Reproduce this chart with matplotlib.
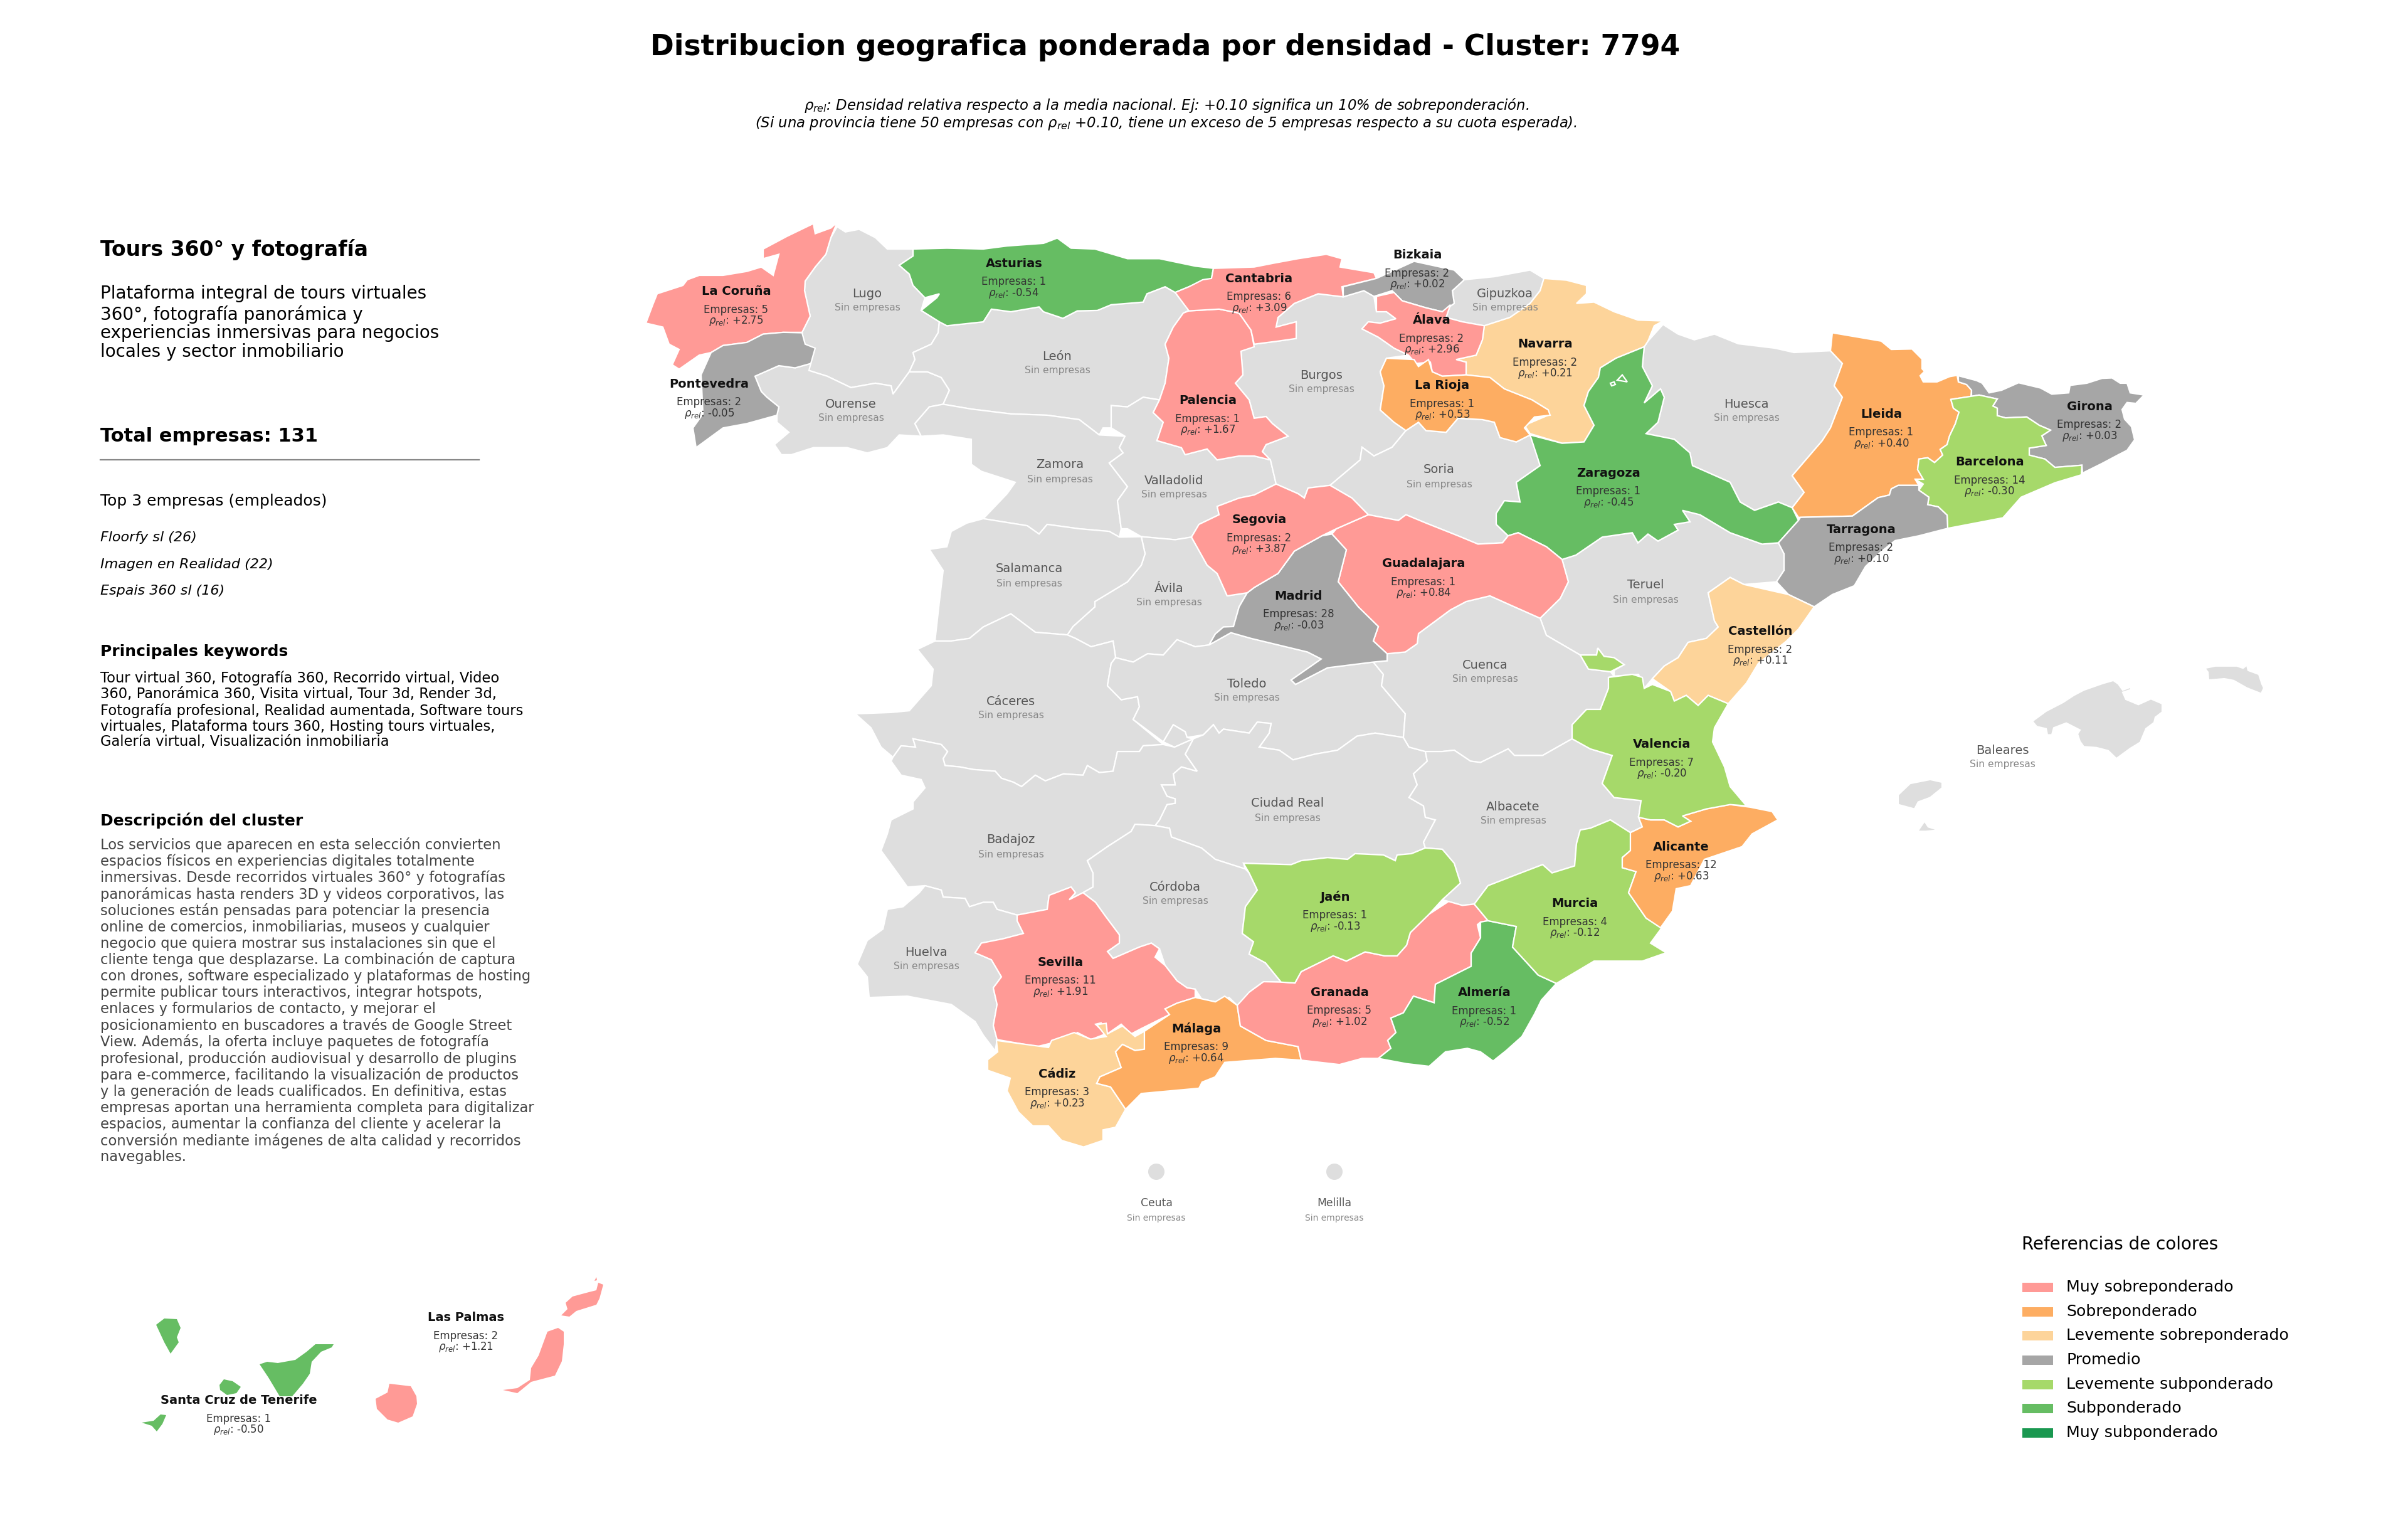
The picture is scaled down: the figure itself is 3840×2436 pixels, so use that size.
import matplotlib
matplotlib.use('Agg')
import matplotlib.pyplot as plt
from matplotlib.patches import Polygon, Circle, Rectangle

# outlines, x in pixels, y stretched (see MAP_YLIM)
OUTLINES = {
    'La Coruña': [[(1335,365),(1325,400),(1317,438),(1300,467),(1284,499),(1283,521),(1292,579),(1279,616),(1249,616),(1217,620),(1191,639),(1153,646),(1134,662),(1115,668),(1083,700),(1072,690),(1083,655),(1067,643),(1057,604),(1030,595),(1041,553),(1048,528),(1089,509),(1096,496),(1115,486),(1153,486),(1191,477),(1214,467),(1233,486),(1242,438),(1217,448),(1217,426),(1255,397),(1297,368),(1300,391),(1325,378)]],
    'Lugo': [[(1335,375),(1348,387),(1370,381),(1396,400),(1415,426),(1456,426),(1456,442),(1434,463),(1450,483),(1456,509),(1475,537),(1469,566),(1498,592),(1496,617),(1485,643),(1456,662),(1459,678),(1450,706),(1424,757),(1421,738),(1396,732),(1357,742),(1319,716),(1290,703),(1279,616),(1292,579),(1283,521),(1284,499),(1300,467),(1317,438),(1325,400)]],
    'Asturias': [[(1456,426),(1510,424),(1568,426),(1606,419),(1664,413),(1686,401),(1708,424),(1746,426),(1798,448),(1849,448),(1906,465),(1935,470),(1932,493),(1896,512),(1874,525),(1858,512),(1829,528),(1823,547),(1772,553),(1750,566),(1718,567),(1695,584),(1664,569),(1657,558),(1612,569),(1581,563),(1568,592),(1510,601),(1498,592),(1469,566),(1494,537),(1498,528),(1475,537),(1456,509),(1450,483),(1434,463),(1456,442)]],
    'Pontevedra': [[(1279,617),(1284,643),(1300,652),(1293,687),(1268,697),(1242,692),(1204,716),(1214,751),(1223,764),(1242,786),(1239,805),(1191,824),(1153,834),(1110,879),(1105,834),(1121,802),(1118,713),(1134,662),(1153,646),(1191,639),(1217,620),(1249,616)]],
    'Ourense': [[(1204,716),(1242,692),(1268,697),(1293,687),(1290,703),(1319,716),(1357,742),(1396,732),(1421,738),(1424,757),(1450,706),(1479,706),(1501,719),(1514,748),(1504,780),(1482,786),(1459,824),(1469,853),(1434,850),(1415,879),(1383,891),(1351,879),(1297,879),(1262,895),(1246,895),(1235,872),(1258,844),(1239,821),(1239,805),(1242,786),(1223,764),(1214,751)]],
    'León': [[(1496,617),(1485,643),(1456,662),(1459,678),(1450,706),(1479,706),(1501,719),(1514,748),(1504,780),(1549,791),(1612,802),(1670,805),(1721,815),(1753,850),(1759,834),(1772,834),(1772,783),(1798,786),(1823,764),(1849,770),(1858,732),(1864,675),(1858,643),(1871,604),(1887,572),(1896,566),(1874,525),(1858,512),(1829,528),(1823,547),(1772,553),(1750,566),(1718,567),(1695,584),(1664,569),(1657,558),(1612,569),(1581,563),(1568,592),(1510,601),(1498,592)]],
    'Zamora': [[(1504,780),(1549,791),(1612,802),(1670,805),(1721,815),(1753,850),(1794,853),(1785,879),(1791,891),(1769,914),(1798,968),(1782,1000),(1788,1064),(1785,1083),(1769,1070),(1721,1064),(1670,1054),(1657,1076),(1638,1057),(1568,1041),(1574,1032),(1606,984),(1619,958),(1565,933),(1549,917),(1549,860),(1504,850),(1469,853),(1459,824),(1482,786)]],
    'Valladolid': [[(1772,783),(1798,786),(1823,764),(1849,770),(1839,799),(1855,821),(1845,863),(1884,879),(1890,895),(1925,882),(1941,907),(1976,898),(2000,898),(2026,907),(2035,962),(2000,987),(1976,994),(1941,1013),(1944,1032),(1912,1054),(1900,1083),(1874,1089),(1820,1082),(1798,1064),(1788,1064),(1782,1000),(1798,968),(1769,914),(1791,891),(1785,879),(1794,853),(1772,834)]],
    'Palencia': [[(1887,572),(1896,567),(1944,563),(1976,572),(1995,611),(2000,649),(1979,659),(1982,713),(1970,732),(1992,770),(2000,812),(2019,808),(2029,824),(2054,853),(2019,872),(2013,888),(2026,907),(2000,898),(1976,898),(1941,907),(1925,882),(1890,895),(1884,879),(1845,863),(1855,821),(1839,799),(1849,770),(1858,732),(1864,675),(1858,643),(1871,604)]],
    'Cantabria': [[(1935,470),(2000,467),(2032,458),(2070,448),(2115,438),(2140,448),(2137,467),(2191,480),(2195,493),(2140,512),(2142,535),(2102,528),(2064,550),(2038,582),(2035,604),(2067,592),(2067,630),(2038,636),(2000,643),(1995,611),(1976,572),(1944,563),(1896,567),(1874,525),(1896,512),(1918,496),(1932,493)]],
    'Bizkaia': [[(2142,512),(2195,493),(2255,454),(2319,474),(2335,496),(2316,521),(2319,550),(2300,569),(2274,560),(2236,544),(2220,521),(2191,534),(2175,521),(2142,535)]],
    'Gipuzkoa': [[(2335,496),(2383,489),(2440,474),(2462,493),(2456,521),(2440,550),(2408,582),(2367,601),(2332,592),(2306,582),(2313,553),(2300,569),(2319,550),(2316,521)]],
    'Navarra': [[(2462,493),(2498,497),(2530,509),(2530,528),(2514,550),(2542,547),(2574,569),(2612,588),(2652,590),(2638,601),(2628,636),(2622,649),(2577,675),(2552,697),(2549,719),(2533,751),(2526,783),(2542,828),(2526,866),(2491,869),(2440,847),(2431,828),(2469,805),(2469,793),(2443,770),(2399,745),(2376,719),(2338,713),(2338,684),(2322,678),(2354,668),(2364,633),(2367,601),(2408,582),(2440,550),(2456,521)]],
    'Álava': [[(2195,534),(2223,525),(2236,544),(2274,560),(2300,569),(2313,553),(2306,582),(2332,592),(2367,601),(2364,633),(2354,668),(2322,678),(2338,684),(2338,713),(2300,716),(2284,706),(2281,684),(2258,687),(2246,668),(2223,652),(2198,627),(2172,608),(2182,592),(2201,595),(2226,585),(2211,569),(2195,569)]],
    'La Rioja': [[(2211,675),(2255,678),(2262,694),(2278,678),(2284,706),(2300,716),(2338,713),(2376,719),(2399,745),(2443,770),(2469,793),(2472,805),(2447,809),(2431,834),(2440,850),(2418,866),(2392,856),(2383,821),(2364,815),(2325,812),(2306,844),(2274,840),(2262,821),(2242,840),(2223,821),(2201,793),(2207,738),(2201,706)]],
    'Burgos': [[(2000,643),(2038,636),(2067,630),(2067,592),(2035,604),(2038,582),(2064,550),(2102,528),(2142,535),(2175,521),(2191,534),(2195,569),(2211,569),(2226,585),(2201,595),(2182,592),(2172,608),(2198,627),(2223,652),(2246,668),(2211,675),(2201,706),(2207,738),(2201,793),(2223,821),(2242,840),(2220,878),(2191,898),(2172,878),(2169,907),(2140,942),(2121,965),(2086,971),(2080,994),(2070,984),(2035,962),(2026,907),(2013,888),(2019,872),(2054,853),(2029,824),(2019,808),(2000,812),(1992,770),(1970,732),(1982,713),(1979,659)]],
    'Soria': [[(2242,840),(2262,821),(2274,840),(2306,844),(2325,812),(2364,815),(2383,821),(2392,856),(2418,866),(2440,850),(2450,891),(2456,920),(2418,958),(2424,1003),(2399,1000),(2386,1029),(2386,1054),(2405,1080),(2396,1096),(2357,1099),(2325,1080),(2274,1051),(2242,1032),(2230,1045),(2182,1032),(2156,994),(2121,965),(2140,942),(2169,907),(2172,878),(2191,898),(2220,878)]],
    'Zaragoza': [[(2622,649),(2619,694),(2635,738),(2622,777),(2648,745),(2654,764),(2644,821),(2625,847),(2670,860),(2695,891),(2699,920),(2759,958),(2775,1003),(2798,1022),(2836,1003),(2858,1016),(2868,1045),(2836,1096),(2810,1099),(2759,1073),(2711,1032),(2683,1022),(2695,1048),(2670,1054),(2676,1067),(2644,1092),(2628,1076),(2612,1096),(2603,1073),(2555,1083),(2513,1124),(2491,1134),(2466,1105),(2421,1073),(2405,1080),(2386,1054),(2386,1029),(2399,1000),(2424,1003),(2418,958),(2456,920),(2440,850),(2491,869),(2526,866),(2542,828),(2526,783),(2533,751),(2549,719),(2552,697),(2577,675)],
                 [(2579,725),(2587,713),(2595,729)],
                 [(2568,732),(2574,729),(2576,735),(2570,738)]],
    'Huesca': [[(2652,598),(2676,620),(2702,633),(2734,620),(2772,642),(2830,652),(2861,662),(2919,658),(2938,687),(2925,738),(2938,764),(2919,834),(2906,863),(2858,943),(2877,981),(2858,1016),(2836,1003),(2798,1022),(2775,1003),(2759,958),(2699,920),(2695,891),(2670,860),(2625,847),(2644,821),(2654,764),(2648,745),(2622,777),(2635,738),(2619,694),(2622,649),(2628,636)]],
    'Lleida': [[(2922,617),(3000,636),(3016,655),(3049,654),(3065,677),(3065,699),(3069,705),(3062,715),(3067,729),(3089,729),(3109,717),(3121,714),(3123,729),(3136,735),(3144,748),(3143,762),(3111,769),(3115,789),(3124,798),(3118,825),(3109,852),(3105,872),(3094,883),(3098,896),(3085,913),(3074,902),(3060,905),(3058,929),(3067,951),(3054,951),(3060,965),(3027,965),(3016,973),(3013,987),(2995,993),(2954,1035),(2868,1038),(2858,1016),(2877,981),(2858,943),(2906,863),(2919,834),(2938,764),(2925,738),(2938,687),(2919,658)]],
    'Girona': [[(3123,715),(3152,726),(3161,732),(3172,754),(3192,748),(3219,731),(3254,743),(3272,757),(3299,754),(3301,737),(3328,732),(3352,721),(3368,720),(3381,732),(3392,732),(3397,754),(3419,759),(3406,778),(3392,776),(3384,792),(3388,814),(3399,831),(3404,861),(3392,885),(3377,896),(3352,915),(3321,937),(3320,919),(3277,924),(3261,905),(3236,896),(3236,880),(3263,874),(3256,852),(3270,839),(3252,828),(3232,809),(3198,811),(3185,806),(3185,789),(3178,784),(3185,768),(3156,759),(3144,762),(3144,748),(3136,735),(3123,729)]],
    'Barcelona': [[(3111,769),(3143,762),(3156,759),(3185,768),(3178,784),(3185,789),(3185,806),(3198,811),(3232,809),(3252,828),(3270,839),(3256,852),(3263,874),(3236,880),(3236,896),(3261,905),(3277,924),(3320,919),(3319,941),(3277,959),(3223,992),(3194,1039),(3106,1063),(3105,1033),(3091,1014),(3074,1009),(3076,992),(3060,976),(3067,962),(3054,951),(3067,951),(3058,929),(3060,905),(3074,902),(3085,913),(3098,896),(3094,883),(3105,872),(3109,852),(3118,825),(3124,798),(3115,789)]],
    'Tarragona': [[(3060,965),(3060,976),(3076,992),(3074,1009),(3091,1014),(3105,1033),(3106,1063),(3060,1080),(3022,1091),(3000,1116),(2975,1150),(2957,1194),(2922,1214),(2893,1242),(2852,1214),(2833,1185),(2845,1159),(2845,1121),(2836,1096),(2868,1045),(2871,1038),(2954,1035),(2995,993),(3013,987),(3016,973),(3027,965)]],
    'Castellón': [[(2759,1175),(2781,1191),(2852,1214),(2893,1242),(2868,1293),(2849,1320),(2804,1371),(2785,1416),(2756,1463),(2724,1444),(2708,1467),(2689,1444),(2670,1457),(2664,1435),(2635,1406),(2654,1377),(2676,1358),(2692,1323),(2721,1314),(2740,1288),(2734,1274),(2724,1210)]],
    'Teruel': [[(2491,1134),(2513,1124),(2555,1083),(2603,1073),(2612,1096),(2628,1076),(2644,1092),(2676,1067),(2670,1054),(2695,1048),(2683,1022),(2711,1032),(2759,1073),(2810,1099),(2836,1096),(2845,1121),(2845,1159),(2833,1185),(2781,1191),(2759,1175),(2724,1210),(2734,1274),(2740,1288),(2721,1314),(2692,1323),(2676,1358),(2654,1377),(2635,1406),(2622,1428),(2613,1396),(2574,1400),(2574,1387),(2590,1374),(2574,1358),(2558,1355),(2548,1336),(2546,1352),(2520,1352),(2466,1307),(2456,1268),(2488,1223),(2501,1185)]],
    'Guadalajara': [[(2131,1064),(2182,1032),(2230,1045),(2242,1032),(2274,1051),(2325,1080),(2357,1099),(2396,1096),(2405,1080),(2421,1073),(2466,1105),(2491,1134),(2501,1185),(2488,1223),(2456,1268),(2415,1242),(2376,1217),(2338,1230),(2313,1249),(2262,1303),(2260,1326),(2241,1345),(2212,1349),(2190,1320),(2198,1287),(2166,1242),(2134,1185),(2147,1112),(2124,1076)]],
    'Madrid': [[(2124,1076),(2147,1112),(2134,1185),(2166,1242),(2198,1287),(2190,1320),(2212,1349),(2212,1365),(2190,1368),(2117,1381),(2066,1419),(2059,1409),(2107,1361),(2085,1345),(1995,1314),(1963,1301),(1928,1329),(1938,1304),(1951,1288),(1967,1287),(1976,1242),(1989,1210),(2000,1198),(2038,1166),(2064,1115),(2108,1080)]],
    'Segovia': [[(2000,987),(2035,962),(2070,984),(2080,994),(2086,971),(2121,965),(2156,994),(2182,1032),(2131,1064),(2108,1080),(2064,1115),(2038,1166),(2000,1198),(1989,1210),(1957,1217),(1941,1166),(1925,1147),(1900,1083),(1912,1054),(1944,1032),(1941,1013),(1976,994)]],
    'Ávila': [[(1820,1082),(1874,1089),(1900,1083),(1925,1147),(1941,1166),(1957,1217),(1989,1210),(1976,1242),(1967,1287),(1951,1288),(1938,1304),(1928,1329),(1906,1333),(1877,1317),(1855,1352),(1830,1349),(1807,1368),(1779,1358),(1775,1320),(1740,1333),(1715,1314),(1702,1306),(1711,1287),(1746,1242),(1746,1230),(1798,1185),(1820,1147),(1826,1121)]],
    'Salamanca': [[(1568,1041),(1638,1057),(1657,1076),(1670,1054),(1721,1064),(1769,1070),(1785,1083),(1820,1082),(1826,1121),(1820,1147),(1798,1185),(1746,1230),(1746,1242),(1711,1287),(1702,1306),(1651,1300),(1612,1258),(1568,1288),(1546,1314),(1517,1320),(1491,1320),(1498,1230),(1504,1159),(1482,1111),(1510,1105),(1517,1070),(1542,1051)]],
    'Cáceres': [[(1491,1320),(1517,1320),(1546,1314),(1568,1288),(1612,1258),(1651,1300),(1702,1306),(1715,1314),(1740,1333),(1775,1320),(1779,1358),(1772,1371),(1766,1422),(1788,1454),(1814,1447),(1817,1470),(1807,1499),(1855,1556),(1823,1559),(1817,1572),(1782,1572),(1775,1617),(1753,1620),(1734,1604),(1727,1626),(1696,1623),(1667,1639),(1651,1626),(1629,1652),(1616,1642),(1597,1633),(1587,1617),(1552,1613),(1530,1607),(1507,1604),(1504,1588),(1511,1572),(1501,1556),(1456,1543),(1460,1562),(1437,1559),(1424,1585),(1405,1562),(1389,1518),(1364,1486),(1421,1483),(1450,1479),(1485,1422),(1488,1384),(1463,1339)]],
    'Toledo': [[(1779,1358),(1807,1368),(1830,1349),(1855,1352),(1877,1317),(1906,1333),(1928,1329),(1963,1301),(1995,1314),(2085,1345),(2107,1361),(2059,1409),(2066,1419),(2117,1381),(2190,1368),(2206,1396),(2203,1422),(2241,1486),(2238,1540),(2193,1530),(2164,1537),(2133,1569),(2097,1578),(2062,1591),(2040,1569),(2008,1562),(2024,1530),(2027,1508),(2005,1505),(1992,1530),(1951,1521),(1944,1530),(1935,1511),(1919,1534),(1893,1540),(1890,1527),(1871,1511),(1855,1550),(1807,1499),(1817,1470),(1814,1447),(1788,1454),(1766,1422),(1772,1371)],
               [(1855,1550),(1871,1511),(1890,1527),(1893,1540),(1903,1543),(1873,1562)]],
    'Ciudad Real': [[(1903,1543),(1919,1534),(1935,1511),(1944,1530),(1951,1521),(1992,1530),(2005,1505),(2027,1508),(2024,1530),(2008,1562),(2040,1569),(2062,1591),(2097,1578),(2133,1569),(2164,1537),(2193,1530),(2238,1540),(2247,1562),(2273,1572),(2276,1594),(2254,1623),(2260,1648),(2247,1677),(2270,1696),(2273,1722),(2289,1728),(2270,1779),(2273,1792),(2251,1805),(2228,1808),(2225,1821),(2206,1808),(2161,1805),(2149,1818),(2117,1814),(2075,1821),(2059,1830),(1983,1827),(1986,1840),(1938,1818),(1916,1792),(1868,1767),(1865,1747),(1842,1741),(1849,1728),(1861,1693),(1874,1690),(1874,1680),(1861,1674),(1852,1648),(1874,1648),(1871,1623),(1884,1607),(1909,1617),(1890,1578)]],
    'Badajoz': [[(1421,1594),(1437,1626),(1469,1636),(1475,1655),(1456,1687),(1456,1703),(1421,1728),(1415,1760),(1405,1798),(1431,1849),(1447,1881),(1475,1878),(1501,1888),(1504,1904),(1539,1907),(1546,1926),(1568,1916),(1584,1916),(1590,1932),(1622,1945),(1670,1932),(1673,1900),(1708,1881),(1715,1894),(1705,1910),(1727,1894),(1743,1881),(1743,1849),(1734,1821),(1766,1789),(1804,1754),(1810,1738),(1842,1741),(1849,1728),(1861,1693),(1874,1690),(1874,1680),(1861,1674),(1852,1648),(1874,1648),(1871,1623),(1884,1607),(1909,1617),(1890,1578),(1903,1543),(1873,1562),(1855,1556),(1823,1559),(1817,1572),(1782,1572),(1775,1617),(1753,1620),(1734,1604),(1727,1626),(1696,1623),(1667,1639),(1651,1626),(1629,1652),(1616,1642),(1597,1633),(1587,1617),(1552,1613),(1530,1607),(1507,1604),(1504,1588),(1511,1572),(1501,1556),(1456,1543),(1460,1562),(1437,1559),(1424,1585)]],
    'Córdoba': [[(1810,1738),(1842,1741),(1865,1747),(1868,1767),(1916,1792),(1938,1818),(1986,1840),(1992,1849),(2005,1888),(1986,1926),(1981,1987),(1999,2006),(1992,2034),(2018,2054),(2043,2098),(2015,2097),(1992,2121),(1986,2146),(1973,2151),(1960,2133),(1938,2143),(1916,2136),(1906,2114),(1893,2111),(1877,2095),(1858,2060),(1849,2022),(1836,2009),(1817,2018),(1775,2044),(1766,2028),(1785,2009),(1785,1990),(1763,1948),(1747,1916),(1727,1894),(1743,1881),(1743,1849),(1734,1821),(1766,1789),(1804,1754)]],
    'Sevilla': [[(1622,1945),(1670,1932),(1673,1900),(1708,1881),(1715,1894),(1705,1910),(1727,1894),(1747,1916),(1763,1948),(1785,1990),(1785,2009),(1766,2028),(1775,2044),(1817,2018),(1836,2009),(1849,2022),(1842,2041),(1858,2060),(1877,2095),(1893,2111),(1906,2114),(1906,2133),(1877,2146),(1858,2159),(1865,2172),(1820,2204),(1804,2216),(1788,2194),(1766,2216),(1756,2191),(1747,2194),(1763,2216),(1740,2229),(1718,2213),(1708,2226),(1654,2245),(1590,2229),(1584,2197),(1590,2149),(1584,2111),(1597,2086),(1581,2047),(1555,2031),(1565,2009),(1600,1999),(1632,1987),(1622,1958)]],
    'Huelva': [[(1475,1878),(1501,1888),(1504,1904),(1539,1907),(1546,1926),(1568,1916),(1584,1916),(1590,1932),(1622,1945),(1622,1958),(1632,1987),(1600,1999),(1565,2009),(1555,2031),(1581,2047),(1597,2086),(1584,2111),(1590,2149),(1584,2197),(1590,2229),(1587,2255),(1568,2219),(1555,2188),(1517,2149),(1447,2130),(1386,2133),(1383,2086),(1367,2057),(1383,2003),(1408,1977),(1415,1932),(1440,1926),(1466,1894)]],
    'Cádiz': [[(1589,2231),(1672,2247),(1677,2231),(1713,2213),(1739,2228),(1764,2222),(1749,2195),(1764,2192),(1766,2216),(1790,2198),(1810,2222),(1825,2210),(1825,2251),(1810,2254),(1790,2240),(1779,2257),(1788,2293),(1754,2314),(1749,2329),(1771,2337),(1795,2388),(1779,2429),(1759,2435),(1759,2459),(1728,2474),(1693,2459),(1672,2426),(1647,2426),(1624,2394),(1606,2346),(1611,2317),(1575,2299),(1575,2275),(1591,2257)]],
    'Málaga': [[(1906,2133),(1916,2136),(1938,2143),(1953,2130),(1973,2151),(1978,2198),(2019,2231),(2070,2245),(2075,2276),(2034,2272),(1953,2281),(1938,2314),(1917,2326),(1912,2340),(1820,2352),(1795,2388),(1771,2337),(1749,2329),(1754,2314),(1788,2293),(1779,2257),(1790,2240),(1810,2254),(1825,2251),(1825,2210),(1865,2172),(1858,2159),(1877,2146)]],
    'Granada': [[(1973,2151),(1992,2121),(2015,2097),(2046,2098),(2065,2100),(2075,2074),(2126,2038),(2147,2050),(2177,2029),(2208,2038),(2228,2038),(2243,2014),(2249,1985),(2279,1943),(2310,1914),(2332,1923),(2351,1920),(2373,1958),(2361,1961),(2356,1967),(2361,1997),(2346,2032),(2346,2062),(2289,2103),(2287,2145),(2254,2130),(2238,2168),(2218,2180),(2226,2213),(2213,2231),(2218,2249),(2198,2272),(2172,2272),(2136,2286),(2075,2276),(2070,2245),(2019,2231),(1978,2198)]],
    'Almería': [[(2361,1961),(2373,1958),(2418,1971),(2412,2018),(2453,2082),(2482,2101),(2458,2139),(2447,2171),(2427,2222),(2402,2254),(2381,2278),(2361,2257),(2340,2249),(2305,2257),(2279,2290),(2243,2284),(2198,2272),(2218,2249),(2213,2231),(2226,2213),(2218,2180),(2238,2168),(2254,2130),(2287,2145),(2289,2103),(2346,2062),(2346,2032),(2361,1997)]],
    'Murcia': [[(2351,1920),(2373,1878),(2418,1853),(2460,1830),(2475,1849),(2511,1833),(2514,1782),(2520,1751),(2536,1747),(2568,1728),(2600,1757),(2600,1798),(2587,1814),(2587,1837),(2609,1846),(2597,1894),(2625,1952),(2650,1974),(2632,2009),(2657,2031),(2619,2050),(2574,2050),(2542,2050),(2482,2101),(2453,2082),(2412,2018),(2418,1971),(2373,1958)]],
    'Alicante': [[(2600,1757),(2619,1744),(2613,1722),(2632,1728),(2654,1728),(2676,1744),(2696,1731),(2683,1719),(2721,1703),(2759,1693),(2791,1699),(2826,1709),(2835,1728),(2794,1760),(2778,1789),(2718,1818),(2696,1878),(2673,1885),(2667,1936),(2648,1974),(2625,1952),(2597,1894),(2609,1846),(2587,1837),(2587,1814),(2600,1798)]],
    'Valencia': [[(2565,1403),(2603,1396),(2619,1403),(2622,1428),(2635,1419),(2664,1435),(2670,1457),(2689,1444),(2708,1467),(2724,1444),(2756,1463),(2734,1518),(2731,1550),(2750,1607),(2759,1652),(2785,1696),(2759,1693),(2721,1703),(2683,1719),(2696,1731),(2676,1744),(2654,1728),(2632,1728),(2613,1722),(2617,1684),(2574,1677),(2555,1645),(2571,1581),(2536,1566),(2507,1543),(2507,1511),(2530,1476),(2552,1476),(2565,1428)],
                 [(2520,1352),(2546,1352),(2548,1336),(2558,1355),(2574,1358),(2590,1374),(2568,1390),(2533,1384)]],
    'Cuenca': [[(2212,1365),(2212,1349),(2241,1345),(2260,1326),(2262,1303),(2313,1249),(2338,1230),(2376,1217),(2415,1242),(2456,1268),(2466,1307),(2520,1352),(2533,1384),(2568,1390),(2574,1400),(2565,1403),(2565,1428),(2552,1476),(2530,1476),(2507,1511),(2507,1543),(2460,1581),(2415,1581),(2405,1566),(2361,1597),(2345,1594),(2319,1569),(2300,1572),(2273,1572),(2247,1562),(2238,1540),(2241,1486),(2203,1422),(2206,1396),(2190,1368)]],
    'Albacete': [[(2300,1572),(2319,1569),(2345,1594),(2361,1597),(2405,1566),(2415,1581),(2460,1581),(2507,1543),(2536,1566),(2571,1581),(2555,1645),(2574,1677),(2617,1684),(2613,1722),(2619,1744),(2600,1757),(2568,1728),(2536,1747),(2520,1751),(2514,1782),(2511,1833),(2475,1849),(2460,1830),(2418,1853),(2373,1878),(2351,1920),(2332,1923),(2310,1914),(2300,1910),(2329,1872),(2319,1827),(2300,1795),(2273,1792),(2270,1779),(2289,1728),(2273,1722),(2270,1696),(2247,1677),(2260,1648),(2254,1623),(2276,1594),(2273,1572)]],
    'Jaén': [[(1983,1827),(2059,1830),(2075,1821),(2117,1814),(2149,1818),(2161,1805),(2206,1808),(2225,1821),(2228,1808),(2251,1805),(2273,1792),(2300,1795),(2319,1827),(2329,1872),(2300,1910),(2279,1943),(2249,1985),(2243,2014),(2228,2038),(2208,2038),(2177,2029),(2147,2050),(2126,2038),(2075,2074),(2065,2100),(2043,2098),(2018,2054),(1992,2034),(1999,2006),(1981,1987),(1986,1926),(2005,1888),(1992,1849)]],
    'Baleares': [[(3241,1503),(3263,1480),(3290,1460),(3307,1444),(3323,1432),(3353,1417),(3370,1410),(3378,1418),(3385,1432),(3398,1425),(3398,1431),(3385,1437),(3390,1453),(3410,1465),(3430,1452),(3448,1463),(3448,1482),(3437,1494),(3435,1506),(3422,1520),(3413,1551),(3397,1565),(3375,1588),(3362,1570),(3343,1563),(3323,1561),(3317,1549),(3313,1532),(3317,1523),(3295,1507),(3275,1518),(3272,1534),(3265,1534),(3263,1520),(3248,1515)],
                 [(3516,1382),(3533,1377),(3567,1377),(3577,1382),(3583,1375),(3585,1387),(3602,1396),(3607,1418),(3610,1427),(3606,1440),(3583,1427),(3562,1410),(3547,1406),(3522,1409),(3521,1391)],
                 [(3027,1671),(3046,1645),(3078,1636),(3097,1642),(3097,1655),(3078,1677),(3059,1687),(3053,1703),(3027,1693)],
                 [(3058,1754),(3069,1731),(3075,1744),(3091,1751),(3072,1754)]],
}

# the Canary inset is in plain image pixels
CANARY_OUTLINES = {
    'Santa Cruz de Tenerife': [
        [(249,2112),(262,2102),(282,2103),(288,2117),(282,2132),(285,2140),(272,2158),(262,2140)],
        [(414,2175),(426,2171),(443,2173),(471,2168),(489,2155),(503,2143),(523,2143),(532,2143),(529,2148),(512,2155),(497,2171),(494,2190),(483,2206),(466,2226),(446,2226),(428,2196)],
        [(350,2208),(357,2199),(371,2202),(384,2211),(377,2221),(362,2224),(351,2216)],
        [(226,2268),(245,2265),(256,2255),(265,2256),(259,2270),(250,2282),(242,2273)]],
    'Las Palmas': [
        [(599,2230),(618,2220),(621,2206),(638,2208),(655,2210),(664,2226),(665,2238),(658,2258),(635,2268),(618,2263),(601,2246)],
        [(802,2216),(825,2213),(845,2200),(847,2181),(859,2161),(873,2123),(890,2117),(899,2123),(899,2143),(896,2170),(885,2193),(847,2203),(825,2221)],
        [(895,2097),(905,2087),(902,2077),(913,2067),(939,2060),(951,2057),(954,2045),(962,2048),(956,2070),(951,2080),(919,2090),(908,2099)],
        [(948,2042),(951,2036),(952,2041)]],
}

empresas = {'La Coruña': 5, 'Asturias': 1, 'Cantabria': 6, 'Bizkaia': 2, 'Pontevedra': 2, 'Álava': 2,
            'Navarra': 2, 'La Rioja': 1, 'Palencia': 1, 'Zaragoza': 1, 'Lleida': 1, 'Girona': 2,
            'Barcelona': 14, 'Tarragona': 2, 'Segovia': 2, 'Guadalajara': 1, 'Madrid': 28,
            'Castellón': 2, 'Valencia': 7, 'Alicante': 12, 'Murcia': 4, 'Jaén': 1, 'Sevilla': 11,
            'Granada': 5, 'Almería': 1, 'Málaga': 9, 'Cádiz': 3, 'Las Palmas': 2,
            'Santa Cruz de Tenerife': 1}

rho = {'La Coruña': 2.75, 'Asturias': -0.54, 'Cantabria': 3.09, 'Bizkaia': 0.02, 'Pontevedra': -0.05,
       'Álava': 2.96, 'Navarra': 0.21, 'La Rioja': 0.53, 'Palencia': 1.67, 'Zaragoza': -0.45,
       'Lleida': 0.40, 'Girona': 0.03, 'Barcelona': -0.30, 'Tarragona': 0.10, 'Segovia': 3.87,
       'Guadalajara': 0.84, 'Madrid': -0.03, 'Castellón': 0.11, 'Valencia': -0.20, 'Alicante': 0.63,
       'Murcia': -0.12, 'Jaén': -0.13, 'Sevilla': 1.91, 'Granada': 1.02, 'Almería': -0.52,
       'Málaga': 0.64, 'Cádiz': 0.23, 'Las Palmas': 1.21, 'Santa Cruz de Tenerife': -0.50}

label_pos = {'La Coruña': (1174,465), 'Lugo': (1383,468), 'Asturias': (1617,420), 'Cantabria': (2008,444),
             'Pontevedra': (1131,612), 'León': (1686,568), 'Ourense': (1357,644), 'Palencia': (1926,639),
             'Zamora': (1690,741), 'Valladolid': (1872,766), 'Salamanca': (1641,907), 'Ávila': (1864,938),
             'Segovia': (2008,829), 'Bizkaia': (2260,407), 'Gipuzkoa': (2400,468), 'Álava': (2283,511),
             'Navarra': (2464,549), 'Burgos': (2107,598), 'La Rioja': (2300,615), 'Soria': (2295,749),
             'Zaragoza': (2565,754), 'Huesca': (2785,644), 'Guadalajara': (2270,899), 'Madrid': (2071,950),
             'Teruel': (2624,933), 'Tarragona': (2968,844), 'Castellón': (2807,1007), 'Lleida': (3000,660),
             'Girona': (3332,648), 'Barcelona': (3173,737), 'Toledo': (1988,1090), 'Cáceres': (1612,1118),
             'Ciudad Real': (2053,1281), 'Badajoz': (1612,1339), 'Córdoba': (1874,1414), 'Jaén': (2129,1430),
             'Huelva': (1477,1518), 'Sevilla': (1691,1534), 'Granada': (2136,1582), 'Málaga': (1908,1640),
             'Cuenca': (2368,1060), 'Valencia': (2650,1187), 'Albacete': (2413,1286), 'Alicante': (2681,1350),
             'Murcia': (2511,1441), 'Almería': (2367,1583), 'Baleares': (3193,1196), 'Cádiz': (1686,1712),
             'Las Palmas': (743,2101), 'Santa Cruz de Tenerife': (381,2233)}

ciudades = {'Ceuta': (1844,1868), 'Melilla': (2128,1868)}
ciudad_label_y = 1918

legend_labels = ['Muy sobreponderado', 'Sobreponderado', 'Levemente sobreponderado', 'Promedio',
                 'Levemente subponderado', 'Subponderado', 'Muy subponderado']
legend_colors = ['#FF9A96', '#FDAD62', '#FDD49A', '#A6A6A6', '#A6D96A', '#66BD63', '#1A9850']
legend_rows = [2052, 2091, 2129, 2168, 2207, 2245, 2284]
EMPTY_COLOR = '#DEDEDE'

top3 = ['Floorfy sl (26)', 'Imagen en Realidad (22)', 'Espais 360 sl (16)']
intro_lines = ['Plataforma integral de tours virtuales', '360°, fotografía panorámica y',
               'experiencias inmersivas para negocios', 'locales y sector inmobiliario']
keyword_lines = ['Tour virtual 360, Fotografía 360, Recorrido virtual, Video',
                 '360, Panorámica 360, Visita virtual, Tour 3d, Render 3d,',
                 'Fotografía profesional, Realidad aumentada, Software tours',
                 'virtuales, Plataforma tours 360, Hosting tours virtuales,',
                 'Galería virtual, Visualización inmobiliaria']
desc_lines = ['Los servicios que aparecen en esta selección convierten',
              'espacios físicos en experiencias digitales totalmente',
              'inmersivas. Desde recorridos virtuales 360° y fotografías',
              'panorámicas hasta renders 3D y videos corporativos, las',
              'soluciones están pensadas para potenciar la presencia',
              'online de comercios, inmobiliarias, museos y cualquier',
              'negocio que quiera mostrar sus instalaciones sin que el',
              'cliente tenga que desplazarse. La combinación de captura',
              'con drones, software especializado y plataformas de hosting',
              'permite publicar tours interactivos, integrar hotspots,',
              'enlaces y formularios de contacto, y mejorar el',
              'posicionamiento en buscadores a través de Google Street',
              'View. Además, la oferta incluye paquetes de fotografía',
              'profesional, producción audiovisual y desarrollo de plugins',
              'para e-commerce, facilitando la visualización de productos',
              'y la generación de leads cualificados. En definitiva, estas',
              'empresas aportan una herramienta completa para digitalizar',
              'espacios, aumentar la confianza del cliente y acelerar la',
              'conversión mediante imágenes de alta calidad y recorridos',
              'navegables.']

MAP_YLIM = (3343, -142)


def class_color(value):
    if value >= 0.75:
        return legend_colors[0]
    if value >= 0.30:
        return legend_colors[1]
    if value > 0.10:
        return legend_colors[2]
    if value >= -0.10:
        return legend_colors[3]
    if value > -0.40:
        return legend_colors[4]
    return legend_colors[5]


def province_color(name):
    return class_color(rho[name]) if name in rho else EMPTY_COLOR


fig = plt.figure(figsize=(19.2, 12.18), dpi=200)

ax_map = fig.add_axes([0, 0, 1, 1])
ax_map.set_xlim(0, 3840)
ax_map.set_ylim(*MAP_YLIM)
ax_map.axis('off')

ax = fig.add_axes([0, 0, 1, 1])
ax.set_xlim(0, 3840)
ax.set_ylim(2436, 0)
ax.axis('off')
ax.patch.set_alpha(0)

# grey provinces first so the coloured outlines stay on top
for name in sorted(OUTLINES, key=lambda n: n in rho):
    for ring in OUTLINES[name]:
        ax_map.add_patch(Polygon(ring, closed=True, facecolor=province_color(name),
                                 edgecolor='white', linewidth=0.8))

for name, rings in CANARY_OUTLINES.items():
    for ring in rings:
        ax.add_patch(Polygon(ring, closed=True, facecolor=province_color(name), edgecolor='none'))

for name, (x, y) in ciudades.items():
    ax.add_patch(Circle((x, y), 13, facecolor=EMPTY_COLOR, edgecolor='none'))
    ax.text(x, ciudad_label_y, name, ha='center', va='center', fontsize=6.2, color='#555555')
    ax.text(x, ciudad_label_y + 24, 'Sin empresas', ha='center', va='center', fontsize=5, color='#888888')

for name, (x, y) in label_pos.items():
    if name in rho:
        ax.text(x, y, name, ha='center', va='center', fontsize=7, fontweight='bold', color='#111111')
        ax.text(x, y + 29, f'Empresas: {empresas[name]}', ha='center', va='center', fontsize=6, color='#333333')
        ax.text(x, y + 47, r'$\rho_{rel}$: ' + f'{rho[name]:+.2f}', ha='center', va='center', fontsize=6, color='#333333')
    else:
        ax.text(x, y, name, ha='center', va='center', fontsize=7, color='#555555')
        ax.text(x, y + 23, 'Sin empresas', ha='center', va='center', fontsize=5.6, color='#888888')

# header
ax.text(1858, 76, 'Distribucion geografica ponderada por densidad - Cluster: 7794', ha='center', va='center',
        fontsize=16.4, fontweight='bold', color='black')
ax.text(1860, 168, r'$\rho_{rel}$: Densidad relativa respecto a la media nacional. Ej: +0.10 significa un 10% de sobreponderación.',
        ha='center', va='center', fontsize=8.2, style='italic')
ax.text(1860, 197, r'(Si una provincia tiene 50 empresas con $\rho_{rel}$ +0.10, tiene un exceso de 5 empresas respecto a su cuota esperada).',
        ha='center', va='center', fontsize=8.2, style='italic')

# left panel
LEFT = 160
ax.text(LEFT, 398, 'Tours 360° y fotografía', va='center', fontsize=11.9, fontweight='bold')
for y, line in zip([468, 501, 531, 561], intro_lines):
    ax.text(LEFT, y, line, va='center', fontsize=10)
ax.text(LEFT, 695, 'Total empresas: 131', va='center', fontsize=11, fontweight='bold')
ax.plot([LEFT, 764], [733, 733], color='#888888', linewidth=0.8)
ax.text(LEFT, 799, 'Top 3 empresas (empleados)', va='center', fontsize=9)
for y, line in zip([857, 900, 942], top3):
    ax.text(LEFT, y, line, va='center', fontsize=8, style='italic')
ax.text(LEFT, 1039, 'Principales keywords', va='center', fontsize=9, fontweight='bold')
for y, line in zip([1081, 1107, 1133, 1159, 1183], keyword_lines):
    ax.text(LEFT, y, line, va='center', fontsize=8.15)
ax.text(LEFT, 1308, 'Descripción del cluster', va='center', fontsize=9, fontweight='bold')
for i, line in enumerate(desc_lines):
    ax.text(LEFT, 1347 + i * 26.2, line, va='center', fontsize=8.15, color='#444444')

# legend
ax.text(3224, 1984, 'Referencias de colores', va='center', fontsize=10)
for y, label, color in zip(legend_rows, legend_labels, legend_colors):
    ax.add_patch(Rectangle((3225, y - 7.5), 49, 15, facecolor=color, edgecolor='none'))
    ax.text(3295, y, label, va='center', fontsize=9.1)

fig.savefig('out.png', dpi=200)
